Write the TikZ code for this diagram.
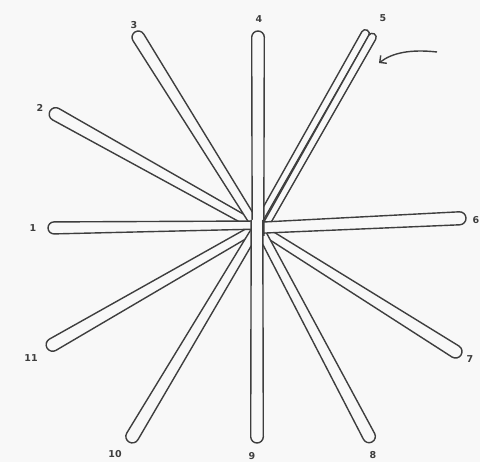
\documentclass[tikz,border=0pt]{standalone}
\usepackage{fontspec}
\setsansfont{DejaVu Sans}
\usetikzlibrary{calc,arrows.meta}
\definecolor{paper}{HTML}{F8F8F8}
\definecolor{ink}{HTML}{3E3E3E}
\tikzset{
  stk/.style={draw=ink, fill=paper, line width=1.4pt, line join=round},
  lbl/.style={text=ink, font=\sffamily\bfseries\fontsize{9.5}{9.5}\selectfont, inner sep=0pt},
  pointer/.style={draw=ink, line width=1.4pt, -{Straight Barb[length=5pt,width=10pt,line width=1.4pt]}}
}
% #1 tip, #2 inner end, #3 tip radius, #4 inner half width
\newcommand\stick[4]{%
  \filldraw[stk] let \p1=(#1), \p2=(#2), \n1={atan2(\y2-\y1,\x2-\x1)} in
    ($(\p2)+({\n1+90}:#4)$) -- ($(\p1)+({\n1}:#3)+({\n1+90}:#3)$)
    arc[start angle={\n1+90}, end angle={\n1+270}, radius=#3]
    -- ($(\p2)+({\n1-90}:#4)$);
}
\begin{document}
\begin{tikzpicture}[x=1pt,y=-1pt]
\fill[paper] (0,0) rectangle (480,462);
\useasboundingbox (0,0) rectangle (480,462);
% tips and inner ends
\coordinate (t1) at (48,228);   \coordinate (c1) at (262,225);
\coordinate (t2) at (50,111);   \coordinate (c2) at (254,225);
\coordinate (t3) at (135,32);   \coordinate (c3) at (256,226);
\coordinate (t4) at (258,31);   \coordinate (c4) at (258,236);
\coordinate (t5a) at (367.3,30.2); \coordinate (c5a) at (256.8,225.2);
\coordinate (t5b) at (374.2,33.8); \coordinate (c5b) at (263.7,228.8);
\coordinate (t6) at (466,218);  \coordinate (c6) at (254,228);
\coordinate (t7) at (461,355);  \coordinate (c7) at (256,226);
\coordinate (t8) at (372,442);  \coordinate (c8) at (258,226);
\coordinate (t9) at (257,443);  \coordinate (c9) at (257,220);
\coordinate (t10) at (129,442); \coordinate (c10) at (258,226);
\coordinate (t11) at (47,348);  \coordinate (c11) at (256,228);
% sticks
\stick{t2}{c2}{6.5pt}{4.2pt}
\stick{t3}{c3}{6.3pt}{4.2pt}
\stick{t11}{c11}{6.5pt}{4.2pt}
\stick{t10}{c10}{6.5pt}{4.2pt}
\stick{t7}{c7}{6.5pt}{4.2pt}
\stick{t8}{c8}{6.3pt}{4.2pt}
\stick{t5a}{c5a}{4pt}{3.2pt}
\stick{t5b}{c5b}{4pt}{3.2pt}
\stick{t1}{c1}{6pt}{4pt}
\stick{t6}{c6}{6.5pt}{5.5pt}
\stick{t4}{c4}{6.3pt}{5.8pt}
\stick{t9}{c9}{6.3pt}{5.8pt}
% labels
\node[lbl] (l1) at (33,228) {1};
\node[lbl] (l2) at (40,108) {2};
\node[lbl] (l3) at (134,25) {3};
\node[lbl] (l4) at (259,19) {4};
\node[lbl] (l5) at (383,18) {5};
\node[lbl] (l6) at (476,220) {6};
\node[lbl] (l7) at (470,359) {7};
\node[lbl] (l8) at (373,455) {8};
\node[lbl] (l9) at (252,456) {9};
\node[lbl] (l10) at (115,454) {10};
\node[lbl] (l11) at (31,358) {11};
% arrow
\coordinate (atail) at (437,52);
\coordinate (ahead) at (379,63);
\draw[pointer] (atail) .. controls (410,49) and (392,53) .. (ahead);
\end{tikzpicture}
\end{document}
